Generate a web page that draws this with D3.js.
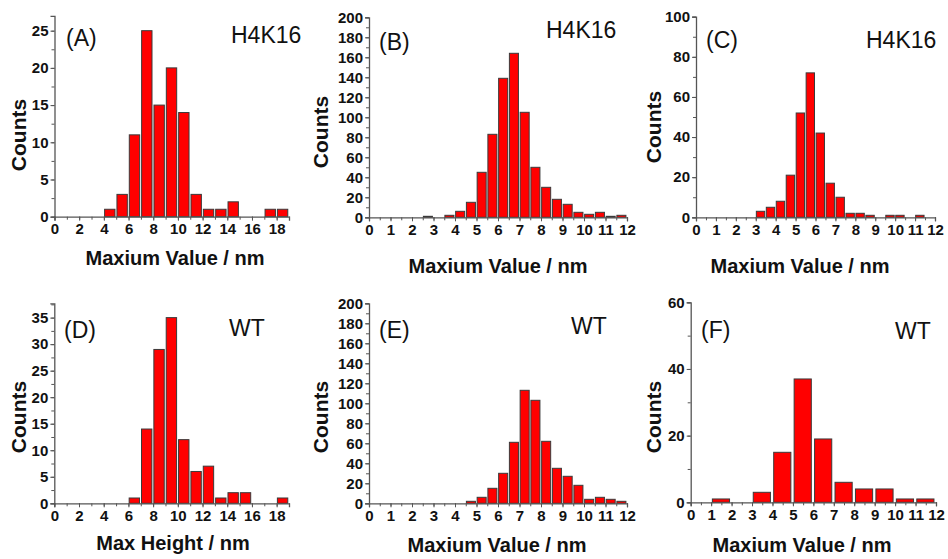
<!DOCTYPE html>
<html>
<head>
<meta charset="utf-8">
<script src="https://cdn.jsdelivr.net/npm/d3@7"></script>
<style>
  body { margin: 0; background: #fff; }
  svg { display: block; }
  .tick text { font-family: "Liberation Sans", Arial, sans-serif; font-weight: bold; font-size: 15px; fill: #111; }
  .title { font-family: "Liberation Sans", Arial, sans-serif; font-weight: bold; fill: #111; }
  .tag { font-family: "Liberation Sans", Arial, sans-serif; font-size: 23px; fill: #111; }
</style>
</head>
<body>
<svg id="chart" width="948" height="559"></svg>
<script>
// histogram bins (left edges) and counts
const binsA = [4, 5, 6, 7, 8, 9, 10, 11, 12, 13, 14, 15, 16, 17, 18];
const countsA = [1, 3, 11, 25, 15, 20, 14, 3, 1, 1, 2, 0, 0, 1, 1];

const binsB = [2.5, 3, 3.5, 4, 4.5, 5, 5.5, 6, 6.5, 7, 7.5, 8, 8.5, 9, 9.5, 10, 10.5, 11, 11.5];
const countsB = [1, 0, 2, 6, 15, 45, 83, 139, 164, 105, 50, 30, 18, 13, 5, 3, 5, 1, 2];

const binsC = [3, 3.5, 4, 4.5, 5, 5.5, 6, 6.5, 7, 7.5, 8, 8.5, 9, 9.5, 10, 10.5, 11];
const countsC = [3, 5, 8, 21, 52, 72, 42, 17, 10, 2, 2, 1, 0, 1, 1, 0, 1];

const binsD = [6, 7, 8, 9, 10, 11, 12, 13, 14, 15, 16, 17, 18];
const countsD = [1, 14, 29, 35, 12, 6, 7, 1, 2, 2, 0, 0, 1];

const binsE = [4.5, 5, 5.5, 6, 6.5, 7, 7.5, 8, 8.5, 9, 9.5, 10, 10.5, 11, 11.5];
const countsE = [2, 6, 15, 30, 61, 113, 103, 62, 35, 27, 18, 4, 6, 4, 2];

const binsF = [1, 2, 3, 4, 5, 6, 7, 8, 9, 10, 11];
const countsF = [1, 0, 3, 15, 37, 19, 6, 4, 4, 1, 1];

const panels = [
  { tag: "(A)", name: "H4K16", bins: binsA, counts: countsA, bw: 1,
    left: 54.5, right: 289, top: 15.8, bottom: 216.7, xMax: 19, yMax: 27,
    xMajor: 2, xMinor: 1, yMajor: 5, yMinor: 2.5, xtitle: "Maxium Value / nm",
    tagPos: [66, 46], namePos: [231, 43], xtPos: [175, 265], ytPos: [18, 135] },
  { tag: "(B)", name: "H4K16", bins: binsB, counts: countsB, bw: 0.5,
    left: 369, right: 627, top: 17.3, bottom: 217.3, xMax: 12, yMax: 200,
    xMajor: 1, xMinor: 0.5, yMajor: 20, yMinor: 10, xtitle: "Maxium Value / nm",
    tagPos: [379, 50], namePos: [546, 38], xtPos: [498, 273], ytPos: [320, 132] },
  { tag: "(C)", name: "H4K16", bins: binsC, counts: countsC, bw: 0.5,
    left: 696, right: 935, top: 16.7, bottom: 217.3, xMax: 12, yMax: 100,
    xMajor: 1, xMinor: 0.5, yMajor: 20, yMinor: 10, xtitle: "Maxium Value / nm",
    tagPos: [706, 48], namePos: [866, 48], xtPos: [800, 273], ytPos: [653, 127] },
  { tag: "(D)", name: "WT", bins: binsD, counts: countsD, bw: 1,
    left: 54.3, right: 289, top: 303.3, bottom: 503.3, xMax: 19, yMax: 37.7,
    xMajor: 2, xMinor: 1, yMajor: 5, yMinor: 2.5, xtitle: "Max Height / nm",
    tagPos: [64, 338], namePos: [229, 336], xtPos: [173, 550], ytPos: [18, 417] },
  { tag: "(E)", name: "WT", bins: binsE, counts: countsE, bw: 0.5,
    left: 369, right: 627, top: 303.3, bottom: 503.3, xMax: 12, yMax: 200,
    xMajor: 1, xMinor: 0.5, yMajor: 20, yMinor: 10, xtitle: "Maxium Value / nm",
    tagPos: [379, 338], namePos: [571, 334], xtPos: [497, 552], ytPos: [320, 417] },
  { tag: "(F)", name: "WT", bins: binsF, counts: countsF, bw: 1,
    left: 690.7, right: 936, top: 302.3, bottom: 502.3, xMax: 12, yMax: 60,
    xMajor: 1, xMinor: 0.5, yMajor: 20, yMinor: 10, xtitle: "Maxium Value / nm",
    tagPos: [701, 338], namePos: [895, 339], xtPos: [802, 552], ytPos: [653, 417] }
];

const svg = d3.select("#chart");
const axisColor = "#555";

panels.forEach(p => {
  const x = d3.scaleLinear().domain([0, p.xMax]).range([p.left, p.right]);
  const y = d3.scaleLinear().domain([0, p.yMax]).range([p.bottom, p.top]);
  const g = svg.append("g");

  // bars, only non-empty bins are drawn
  g.selectAll("rect")
    .data(p.bins.map((b, i) => ({ b, c: p.counts[i] })).filter(d => d.c > 0))
    .join("rect")
    .attr("x", d => x(d.b + p.bw * 0.06))
    .attr("width", d => x(d.b + p.bw * 0.9) - x(d.b + p.bw * 0.06))
    .attr("y", d => y(d.c))
    .attr("height", d => y(0) - y(d.c))
    .attr("fill", "#ff0000")
    .attr("stroke", "#3a3a3a")
    .attr("stroke-width", 1);

  // x axis: minor ticks first, then labelled major ticks
  const xMajorVals = d3.range(0, Math.min(p.xMax, 18) + 1e-9, p.xMajor);
  const xMinorVals = d3.range(0, p.xMax + 1e-9, p.xMinor);
  const gx = g.append("g").attr("transform", `translate(0,${p.bottom})`);
  gx.call(d3.axisBottom(x).tickValues(xMinorVals).tickSize(3).tickFormat(""));
  gx.select(".domain").remove();
  const gx2 = g.append("g").attr("transform", `translate(0,${p.bottom})`)
    .call(d3.axisBottom(x).tickValues(xMajorVals).tickSize(4).tickPadding(3).tickFormat(d3.format("d")));
  gx2.select(".domain").attr("stroke", axisColor).attr("stroke-width", 1.3);

  // y axis
  const yMinorVals = d3.range(0, p.yMax + 1e-9, p.yMinor);
  const yMajorVals = d3.range(0, p.yMax + 1e-9, p.yMajor);
  const gy = g.append("g").attr("transform", `translate(${p.left},0)`);
  gy.call(d3.axisLeft(y).tickValues(yMinorVals).tickSize(3).tickFormat(""));
  gy.select(".domain").remove();
  const gy2 = g.append("g").attr("transform", `translate(${p.left},0)`)
    .call(d3.axisLeft(y).tickValues(yMajorVals).tickSize(4).tickPadding(2).tickFormat(d3.format("d")));
  gy2.select(".domain").attr("stroke", axisColor).attr("stroke-width", 1.3);
  g.selectAll(".tick line").attr("stroke", axisColor);

  // titles and labels
  g.append("text").attr("class", "title")
    .attr("x", p.xtPos[0]).attr("y", p.xtPos[1])
    .attr("text-anchor", "middle").style("font-size", "20px")
    .text(p.xtitle);
  g.append("text").attr("class", "title")
    .attr("transform", `translate(${p.ytPos[0] + 8},${p.ytPos[1]}) rotate(-90)`)
    .attr("text-anchor", "middle").style("font-size", "21px")
    .text("Counts");
  g.append("text").attr("class", "tag")
    .attr("x", p.tagPos[0]).attr("y", p.tagPos[1]).text(p.tag);
  g.append("text").attr("class", "tag")
    .attr("x", p.namePos[0]).attr("y", p.namePos[1]).text(p.name);
});
</script>
</body>
</html>
